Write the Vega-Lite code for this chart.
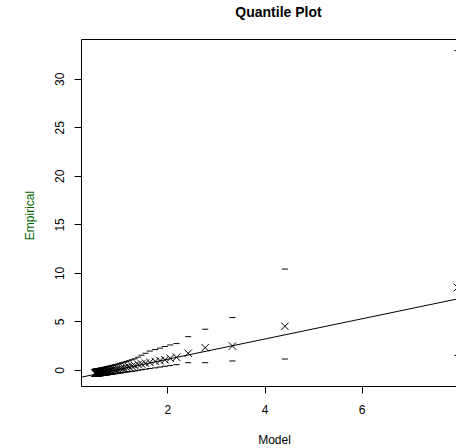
{
  "$schema": "https://vega.github.io/schema/vega-lite/v6.json",
  "width": 375,
  "height": 347,
  "autosize": "none",
  "padding": {"left": 81, "top": 39, "right": 0, "bottom": 62},
  "background": "white",
  "title": {"text": "Quantile Plot", "font": "Liberation Sans", "fontSize": 14, "fontWeight": "bold", "color": "black", "anchor": "middle", "dx": 10, "baseline": "alphabetic", "offset": 8},
  "config": {
    "view": {"stroke": null},
    "axis": {"grid": false, "labelFont": "Liberation Sans", "titleFont": "Liberation Sans", "labelFontSize": 12, "titleFontSize": 12, "titleFontWeight": "normal", "labelColor": "black", "titleColor": "black", "domainColor": "black", "tickColor": "black", "domainWidth": 1, "tickWidth": 1, "tickSize": 7}
  },
  "datasets": {
    "q": [
      {"x": 7.97, "y": 8.5, "lo": 1.5, "hi": 32.9},
      {"x": 4.42, "y": 4.5, "lo": 1.13, "hi": 10.4},
      {"x": 3.34, "y": 2.47, "lo": 0.93, "hi": 5.4},
      {"x": 2.78, "y": 2.3, "lo": 0.75, "hi": 4.2},
      {"x": 2.43, "y": 1.72, "lo": 0.75, "hi": 3.43},
      {"x": 2.19, "y": 1.31, "lo": 0.55, "hi": 2.72},
      {"x": 2.06, "y": 1.2, "lo": 0.45, "hi": 2.58},
      {"x": 1.95, "y": 1.05, "lo": 0.38, "hi": 2.42},
      {"x": 1.85, "y": 0.96, "lo": 0.3, "hi": 2.25},
      {"x": 1.75, "y": 0.88, "lo": 0.22, "hi": 2.1},
      {"x": 1.64, "y": 0.79, "lo": 0.15, "hi": 1.95},
      {"x": 1.55, "y": 0.7, "lo": 0.08, "hi": 1.72},
      {"x": 1.47, "y": 0.62, "lo": 0.02, "hi": 1.52},
      {"x": 1.4, "y": 0.56, "lo": -0.03, "hi": 1.32},
      {"x": 1.33, "y": 0.45, "lo": -0.1, "hi": 1.15},
      {"x": 1.27, "y": 0.4, "lo": -0.14, "hi": 1.05},
      {"x": 1.21, "y": 0.33, "lo": -0.18, "hi": 0.95},
      {"x": 1.16, "y": 0.28, "lo": -0.22, "hi": 0.87},
      {"x": 1.11, "y": 0.22, "lo": -0.25, "hi": 0.8},
      {"x": 1.07, "y": 0.18, "lo": -0.28, "hi": 0.74},
      {"x": 1.03, "y": 0.13, "lo": -0.31, "hi": 0.68},
      {"x": 0.99, "y": 0.1, "lo": -0.34, "hi": 0.62},
      {"x": 0.95, "y": 0.05, "lo": -0.37, "hi": 0.57},
      {"x": 0.92, "y": 0.02, "lo": -0.39, "hi": 0.53},
      {"x": 0.89, "y": 0.0, "lo": -0.41, "hi": 0.49},
      {"x": 0.86, "y": -0.04, "lo": -0.43, "hi": 0.45},
      {"x": 0.83, "y": -0.06, "lo": -0.45, "hi": 0.42},
      {"x": 0.8, "y": -0.09, "lo": -0.47, "hi": 0.38},
      {"x": 0.78, "y": -0.11, "lo": -0.49, "hi": 0.35},
      {"x": 0.76, "y": -0.13, "lo": -0.5, "hi": 0.33},
      {"x": 0.74, "y": -0.15, "lo": -0.52, "hi": 0.3},
      {"x": 0.72, "y": -0.17, "lo": -0.53, "hi": 0.28},
      {"x": 0.7, "y": -0.18, "lo": -0.54, "hi": 0.26},
      {"x": 0.68, "y": -0.2, "lo": -0.55, "hi": 0.24},
      {"x": 0.66, "y": -0.22, "lo": -0.56, "hi": 0.22},
      {"x": 0.645, "y": -0.23, "lo": -0.57, "hi": 0.2},
      {"x": 0.63, "y": -0.24, "lo": -0.58, "hi": 0.19},
      {"x": 0.615, "y": -0.25, "lo": -0.59, "hi": 0.17},
      {"x": 0.6, "y": -0.26, "lo": -0.6, "hi": 0.16},
      {"x": 0.59, "y": -0.27, "lo": -0.61, "hi": 0.15},
      {"x": 0.58, "y": -0.28, "lo": -0.61, "hi": 0.14},
      {"x": 0.57, "y": -0.29, "lo": -0.62, "hi": 0.13},
      {"x": 0.56, "y": -0.3, "lo": -0.62, "hi": 0.12},
      {"x": 0.55, "y": -0.31, "lo": -0.63, "hi": 0.11},
      {"x": 0.54, "y": -0.31, "lo": -0.63, "hi": 0.1},
      {"x": 0.53, "y": -0.32, "lo": -0.64, "hi": 0.09},
      {"x": 0.52, "y": -0.33, "lo": -0.64, "hi": 0.08},
      {"x": 0.51, "y": -0.34, "lo": -0.65, "hi": 0.07}
    ],
    "fit": [
      {"x": 0.224, "y": -0.75},
      {"x": 7.94, "y": 7.29}
    ]
  },
  "resolve": {"axis": {"x": "independent"}},
  "layer": [
    {
      "data": {"name": "fit"},
      "mark": {"type": "line", "color": "black", "strokeWidth": 1, "clip": true},
      "encoding": {
        "x": {"field": "x", "type": "quantitative", "scale": {"domain": [0.224, 7.94], "nice": false, "zero": false},
              "axis": {"orient": "bottom", "values": [2, 4, 6, 8], "labelPadding": 11, "labelBaseline": "top", "title": "Model", "titleX": 193, "titleY": 53, "titleBaseline": "middle", "titleAnchor": null}},
        "y": {"field": "y", "type": "quantitative", "scale": {"domain": [-1.65, 34.1], "nice": false, "zero": false},
              "axis": {"values": [0, 5, 10, 15, 20, 25, 30], "labelAngle": -90, "labelAlign": "center", "labelBaseline": "bottom", "labelPadding": 8, "title": "Empirical", "titleColor": "#006400", "titleAngle": -90, "titleX": -52, "titleY": 176, "titleBaseline": "middle", "titleAlign": "center"}}
      }
    },
    {
      "data": {"name": "q"},
      "mark": {"type": "point", "shape": "M-1,-1L1,1M-1,1L1,-1", "size": 56, "filled": false, "stroke": "black", "strokeWidth": 1, "opacity": 1},
      "encoding": {
        "x": {"field": "x", "type": "quantitative", "axis": null},
        "y": {"field": "y", "type": "quantitative"}
      }
    },
    {
      "data": {"name": "q"},
      "mark": {"type": "point", "shape": "M-1,0L1,0", "size": 36, "filled": false, "stroke": "black", "strokeWidth": 1, "opacity": 1},
      "encoding": {
        "x": {"field": "x", "type": "quantitative", "axis": {"orient": "top", "labels": false, "ticks": false, "title": null}},
        "y": {"field": "lo", "type": "quantitative"}
      }
    },
    {
      "data": {"name": "q"},
      "mark": {"type": "point", "shape": "M-1,0L1,0", "size": 36, "filled": false, "stroke": "black", "strokeWidth": 1, "opacity": 1},
      "encoding": {
        "x": {"field": "x", "type": "quantitative", "axis": null},
        "y": {"field": "hi", "type": "quantitative"}
      }
    }
  ]
}
